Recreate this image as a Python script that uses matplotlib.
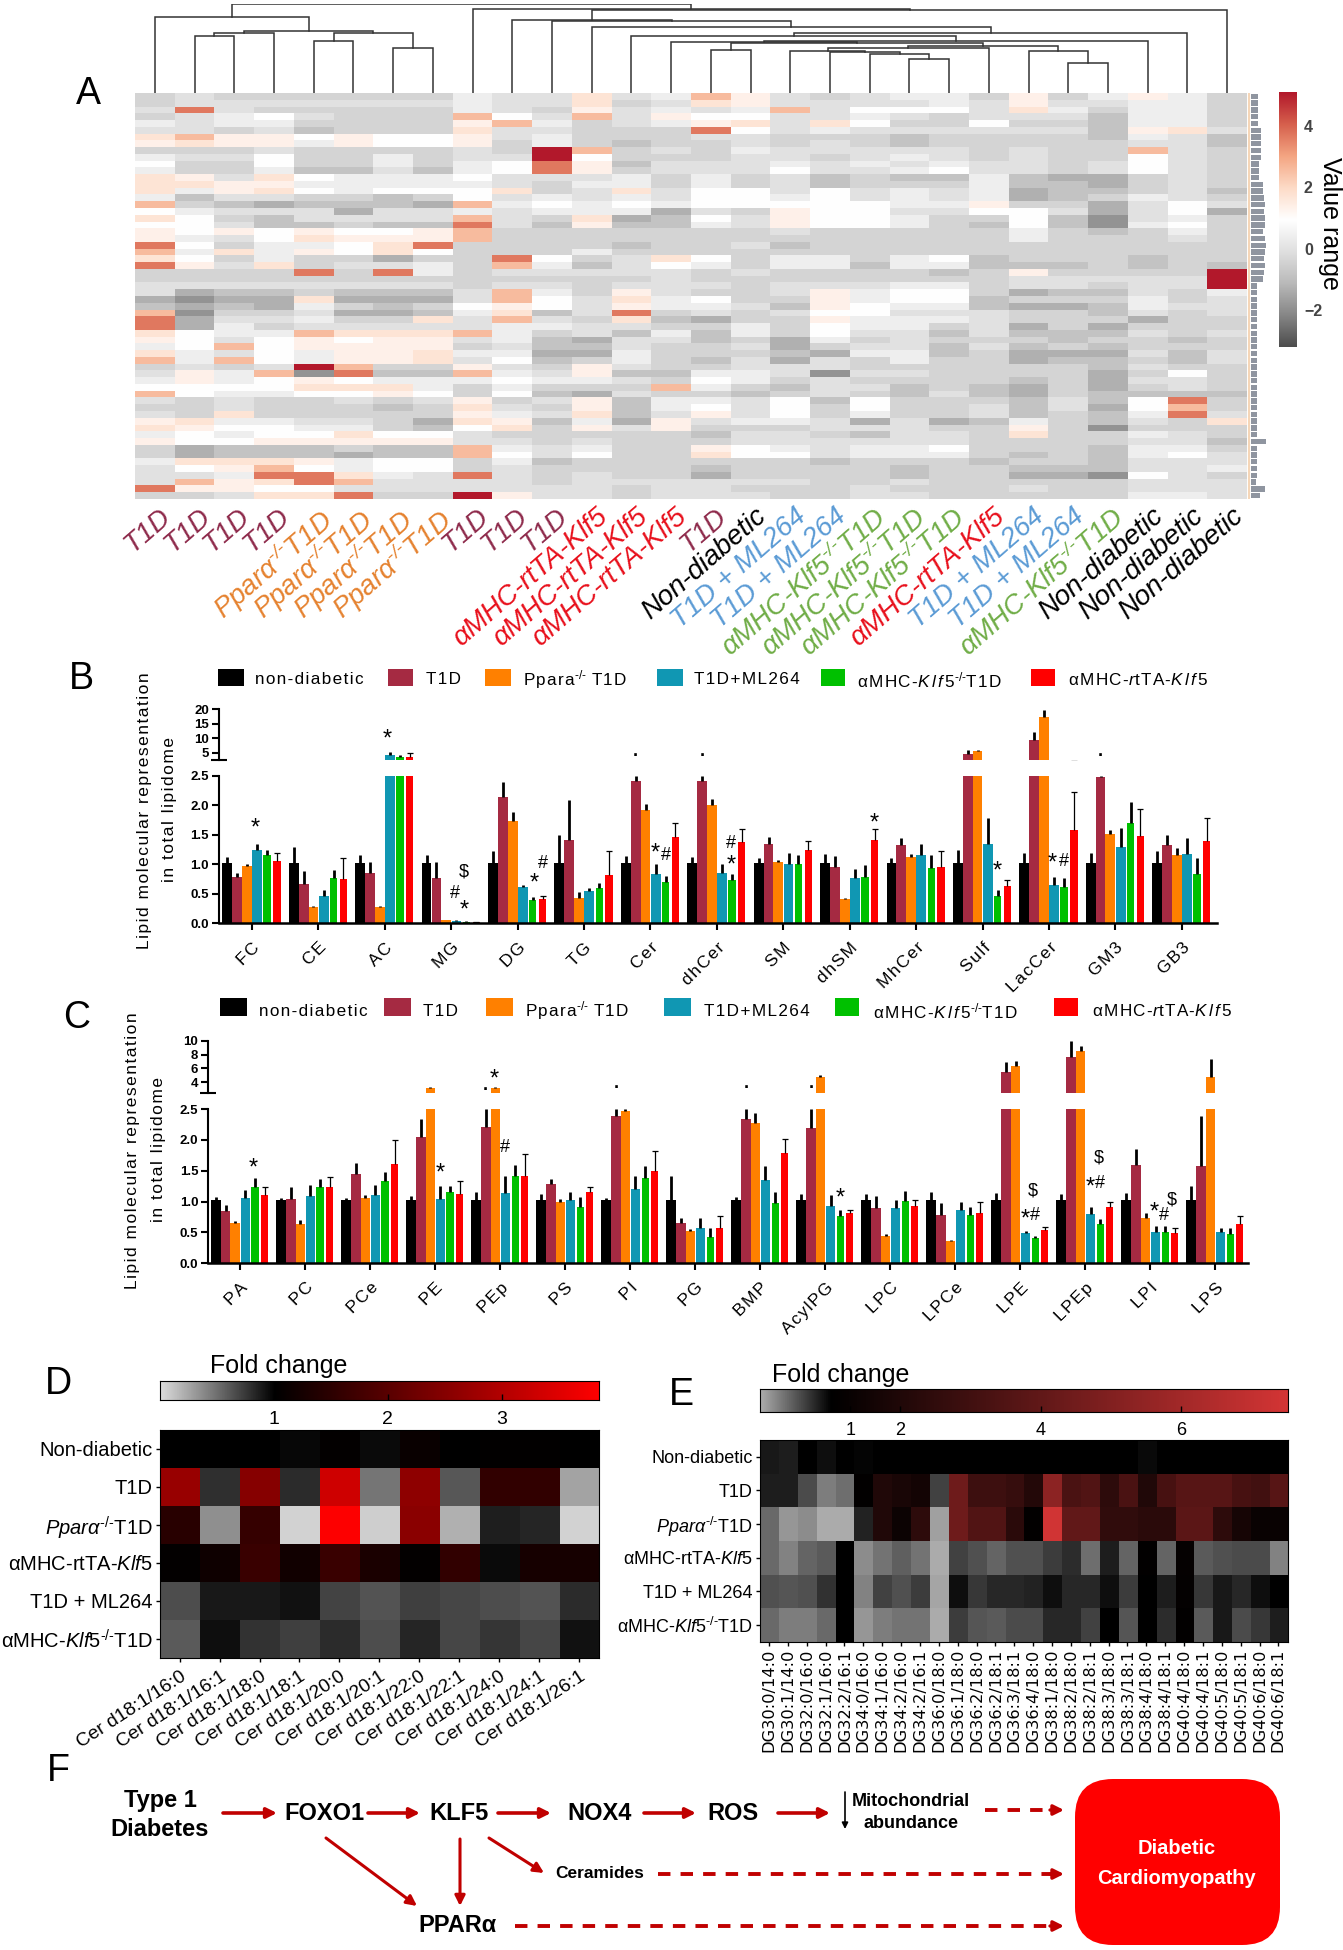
# Lipidomics figure: clustered heatmap, broken-axis bars, fold change maps, pathway.
import numpy as np
import matplotlib
matplotlib.use("Agg")
import matplotlib.pyplot as plt
from matplotlib.colors import LinearSegmentedColormap
from matplotlib.patches import Rectangle, FancyBboxPatch

plt.rcParams["font.family"] = ["Liberation Sans", "DejaVu Sans"]
plt.rcParams["mathtext.fontset"] = "custom"
plt.rcParams["mathtext.rm"] = "Liberation Sans"
plt.rcParams["mathtext.it"] = "Liberation Sans:italic"
plt.rcParams["mathtext.bf"] = "Liberation Sans:bold"
plt.rcParams["mathtext.default"] = "regular"

W, H = 1343, 1950
KO = "\u2010/\u2010"

# ---- Panel A data
a_labels = ["T1D"] * 4 + ["Pparα$^{" + KO + "}$T1D"] * 4 + ["T1D"] * 3 + ["αMHC-rtTA-Klf5"] * 3 + ["T1D", "Non-diabetic"] \
    + ["T1D + ML264"] * 2 + ["αMHC-Klf5$^{" + KO + "}$T1D"] * 3 + ["αMHC-rtTA-Klf5"] + ["T1D + ML264"] * 2 \
    + ["αMHC-Klf5$^{" + KO + "}$T1D"] + ["Non-diabetic"] * 3
a_colors = {"T1D": "#8e2a4b", "Ppar": "#e5822f", "rtTA": "#e8101c", "Non": "#000000", "ML": "#5b9bd5", "Klf": "#70ad47"}

# one character per cell, see heat_levels
heat_levels = {"0": -1.9, "1": -1.3, "2": -0.85, "3": -0.4, "4": -0.05, "5": 0.4, "6": 0.95, "7": 1.35,
               "8": 1.7, "9": 2.6, "a": 3.7, "b": 5.1}
heat_rows = [
    "3 4 3 3 3 3 3 3 5 4 4 8 4 5 9 7 4 3 4 5 5 3 7 3 5 7 5 3",
    "3 4 4 4 4 4 4 4 5 4 4 8 3 4 8 7 4 4 4 4 5 4 7 4 4 5 5 3",
    "4 a 4 3 3 3 3 3 5 4 3 7 4 5 4 5 9 4 6 6 6 4 8 5 3 5 5 3",
    "3 4 5 6 4 3 3 3 9 6 4 9 4 7 6 6 4 4 5 4 3 4 4 4 2 5 5 3",
    "5 4 5 5 3 3 3 3 7 9 5 3 4 5 7 8 4 8 6 3 3 6 3 3 2 5 5 3",
    "4 4 3 4 2 3 3 3 8 4 4 3 3 3 a 6 4 5 4 4 4 4 4 4 2 7 8 4",
    "8 9 7 7 6 7 6 6 7 4 5 3 3 3 4 4 3 3 3 2 3 3 3 3 2 5 4 2",
    "7 8 7 7 5 7 6 6 7 3 5 3 2 3 3 4 3 4 3 2 3 3 3 3 3 4 4 2",
    "3 3 3 4 3 3 3 3 4 3 b 9 3 4 3 5 4 4 4 4 4 3 4 3 3 9 4 3",
    "5 4 4 6 3 3 5 3 4 4 b 6 3 3 3 4 4 3 4 5 4 3 4 3 3 6 4 3",
    "6 3 3 6 3 3 5 3 5 6 a 7 2 4 4 4 5 4 5 4 5 4 4 3 4 6 4 3",
    "5 3 3 5 2 2 4 2 5 6 a 7 3 4 4 4 6 4 4 5 6 4 4 3 4 6 4 3",
    "8 7 4 8 6 5 5 5 6 4 4 4 5 3 5 3 4 2 3 2 2 5 2 1 1 3 4 3",
    "8 8 7 7 5 5 5 5 5 4 3 5 5 3 5 3 4 2 3 3 3 5 2 2 1 3 4 3",
    "8 5 7 8 6 5 6 6 6 8 3 4 8 4 6 6 4 6 4 5 4 5 1 2 2 3 4 2",
    "5 2 4 4 3 3 2 3 6 4 5 4 5 4 6 6 5 6 4 5 4 5 1 2 3 5 4 3",
    "9 3 2 1 2 2 2 1 9 5 6 5 6 5 6 6 6 6 6 5 5 7 3 3 1 4 6 4",
    "6 5 4 4 4 1 4 4 5 4 5 5 5 1 4 3 7 6 6 4 4 6 6 4 1 4 6 1",
    "8 6 3 2 4 4 4 4 9 4 3 8 1 2 6 4 7 6 6 5 3 3 6 2 0 4 5 3",
    "6 6 4 2 2 3 2 2 a 4 2 7 2 2 5 4 7 6 6 5 3 2 6 2 0 5 6 3",
    "7 6 7 6 7 6 6 7 9 3 3 3 3 3 3 3 4 3 3 3 3 3 5 3 2 3 5 3",
    "7 5 4 6 8 7 7 7 9 3 3 3 3 3 3 3 3 3 3 3 3 3 5 3 3 3 4 3",
    "a 6 3 5 5 6 8 a 3 3 3 3 2 3 3 4 2 3 3 3 3 3 3 3 3 3 3 3",
    "9 5 8 5 7 6 8 6 3 3 3 5 3 3 3 3 3 3 3 3 3 3 3 3 3 3 3 3",
    "8 6 3 5 3 3 1 3 3 a 6 3 4 8 6 3 5 5 3 5 6 2 3 3 3 2 3 3",
    "a 7 4 8 3 4 4 5 3 9 5 2 4 6 5 3 5 5 2 5 5 2 2 2 3 2 3 2",
    "3 3 3 3 a 3 a 5 3 4 4 4 4 4 3 4 3 3 3 3 2 3 7 3 3 3 3 b",
    "3 3 3 3 3 3 3 3 3 3 3 3 3 4 3 3 3 3 3 3 3 3 4 4 4 4 4 b",
    "4 4 4 4 4 4 4 4 3 4 4 3 4 4 4 3 4 4 4 5 5 3 4 4 3 4 4 b",
    "4 1 2 2 3 2 2 2 4 9 5 3 7 4 3 3 4 7 5 6 6 3 1 2 2 4 3 5",
    "1 0 1 1 8 1 1 1 4 9 6 4 8 5 6 3 3 7 5 6 6 2 3 3 3 5 3 4",
    "2 1 2 1 5 3 2 3 6 7 6 4 7 5 5 4 2 7 6 5 5 2 1 1 2 5 4 4",
    "9 0 3 3 4 1 1 2 5 8 2 4 a 3 4 3 4 6 6 4 4 4 3 3 2 4 3 4",
    "a 1 4 4 5 3 3 8 4 9 4 3 8 2 1 3 3 7 5 5 5 4 3 3 3 1 3 3",
    "a 1 5 3 4 4 4 4 4 5 5 4 4 3 3 5 3 6 5 5 3 4 1 3 1 3 3 3",
    "8 6 5 5 9 8 8 8 9 5 3 4 2 5 2 5 3 6 4 4 2 4 2 2 2 4 3 4",
    "7 6 4 6 7 6 7 7 4 5 2 1 4 4 2 3 1 5 3 4 3 3 3 2 3 3 2 3",
    "5 6 9 6 7 7 7 7 3 4 2 2 4 3 3 4 1 3 4 4 2 4 2 3 2 3 3 3",
    "8 5 4 6 5 7 7 8 5 5 1 1 5 3 3 3 2 1 5 5 2 3 1 1 1 4 2 4",
    "9 5 9 6 5 7 7 8 4 6 2 3 5 3 2 4 1 4 3 5 3 3 1 2 2 3 2 4",
    "3 4 3 4 b 9 3 3 7 4 3 7 4 3 3 4 4 4 3 3 3 3 3 3 2 4 3 3",
    "4 7 5 9 0 a 2 2 9 5 4 7 2 2 5 5 4 0 4 4 3 3 3 3 1 3 6 3",
    "5 7 5 6 7 6 5 5 5 6 5 5 4 3 6 5 3 4 3 3 3 3 2 3 1 4 4 3",
    "6 6 6 6 8 8 8 5 3 5 3 3 3 9 5 3 2 4 4 2 3 2 1 3 1 3 4 3",
    "9 6 5 5 6 6 7 6 3 6 2 1 4 3 3 2 3 4 3 2 4 2 1 3 2 2 2 2",
    "4 3 4 3 3 4 3 4 7 3 4 7 2 5 5 4 6 2 6 3 3 3 2 4 2 6 a 3",
    "3 3 4 3 3 3 2 3 8 4 3 7 2 5 6 4 6 3 6 3 3 4 2 4 1 6 9 3",
    "4 3 8 3 3 3 3 3 7 5 4 8 2 4 7 4 6 3 5 3 3 4 2 3 2 5 a 4",
    "7 8 5 5 4 4 3 1 8 7 2 5 1 7 4 5 5 4 1 4 1 2 5 3 2 4 3 8",
    "8 7 6 6 5 5 3 2 6 8 3 7 4 7 3 3 3 4 4 4 3 3 7 3 0 3 3 3",
    "5 6 5 6 6 8 6 6 4 3 3 3 3 3 2 4 4 3 2 4 4 3 8 3 3 5 4 3",
    "7 6 6 7 7 7 7 7 4 4 3 4 3 3 3 4 4 4 4 4 4 3 3 3 3 4 4 2",
    "3 1 2 2 2 3 2 2 9 5 4 5 3 3 7 6 5 4 5 5 6 3 3 3 2 5 5 3",
    "3 1 2 2 2 1 2 2 9 6 4 6 3 3 8 6 6 4 5 5 5 3 2 3 2 5 6 4",
    "5 8 8 8 7 5 6 6 3 5 2 3 3 3 3 3 3 2 3 3 3 2 3 3 2 4 4 4",
    "4 6 7 9 6 5 6 6 3 4 3 3 3 3 2 3 3 3 3 2 3 3 2 2 2 4 4 5",
    "4 4 5 a a 8 5 4 a 4 3 4 3 3 1 3 3 3 3 2 3 3 1 1 0 6 4 3",
    "4 9 7 8 a 9 4 4 4 4 3 4 4 4 4 4 4 3 3 4 3 3 3 3 3 4 4 4",
    "a 7 7 6 6 4 4 4 4 4 4 4 3 4 4 3 3 3 4 3 3 3 4 3 3 4 4 4",
    "3 3 4 8 8 a 3 3 b 7 4 4 3 4 4 4 3 3 4 4 3 3 3 3 3 5 5 4",
]
# row name widths beside the heatmap (tiny illegible labels)
a_side = [7, 7, 7, 7, 7, 10, 10, 10, 10, 10, 8, 8, 8, 12, 12, 13, 14, 13, 14, 14, 12, 14, 15, 14, 13, 14, 13, 12,
          6, 6, 6, 6, 6, 6, 6, 6, 6, 6, 6, 6, 6, 6, 6, 6, 6, 6, 6, 6, 6, 6, 6, 15, 6, 6, 6, 6, 6, 5, 14, 9]
# dendrogram merges: (child, child, height); ids above 27 are earlier merges
a_merges = [(1, 2, 140), (28, 3, 146), (4, 5, 128), (6, 7, 110), (30, 31, 146), (29, 32, 153), (0, 33, 186),
            (14, 15, 106), (19, 20, 83), (18, 36, 96), (17, 37, 100), (16, 38, 103), (39, 21, 110), (23, 24, 73),
            (22, 41, 103), (40, 42, 116), (35, 43, 123), (13, 44, 125), (45, 25, 128), (12, 46, 140), (47, 26, 146),
            (11, 48, 162), (10, 49, 176), (9, 50, 178), (51, 27, 203), (8, 52, 206), (34, 53, 218)]

# ---- Panels B and C data: group rows, columns follow series order
series_colors = ["#000000", "#a52a42", "#ff8000", "#1097b3", "#00c000", "#ff0000"]
b_groups = ["FC", "CE", "AC", "MG", "DG", "TG", "Cer", "dhCer", "SM", "dhSM", "MhCer", "Sulf", "LacCer", "GM3", "GB3"]
b_means = [[1.02, .79, .97, 1.25, 1.15, 1.05], [1.02, .67, .27, .47, .76, .75], [1.02, .85, .27, 4.2, 3.6, 3.4],
           [1.02, .76, .05, .04, .03, .02], [1.02, 2.14, 1.74, .61, .40, .41], [1.02, 1.41, .43, .54, .60, .82],
           [1.02, 2.41, 1.92, .83, .70, 1.46], [1.02, 2.41, 2.00, .85, .73, 1.38], [1.02, 1.35, 1.04, 1.01, 1.01, 1.25],
           [1.02, .95, .41, .76, .79, 1.41], [1.02, 1.32, 1.12, 1.15, .94, .96], [1.02, 4.7, 5.6, 1.34, .47, .63],
           [1.02, 9.4, 17.3, .65, .61, 1.58], [1.02, 2.48, 1.51, 1.29, 1.70, 1.48], [1.02, 1.32, 1.16, 1.18, .83, 1.39]]
b_tops = [[1.12, .86, 1.0, 1.34, 1.25, 1.19], [1.30, .88, .30, .56, .90, 1.11], [1.16, 1.04, .30, 5.3, 4.1, 4.8],
          [1.16, 1.04, .06, .05, .04, .03], [1.22, 2.40, 1.89, .65, .45, .46], [1.50, 2.08, .53, .60, .69, 1.23],
          [1.14, 2.50, 2.02, 1.00, .80, 1.70], [1.13, 2.50, 2.10, 1.00, .83, 1.60], [1.11, 1.47, 1.07, 1.19, 1.15, 1.39],
          [1.17, 1.14, .43, .92, .98, 1.60], [1.10, 1.45, 1.17, 1.35, 1.15, 1.22], [1.25, 6.0, 5.9, 1.78, .56, .74],
          [1.19, 12.3, 19.6, .79, .76, 2.22], [1.19, 2.49, 1.58, 1.62, 2.05, 1.93], [1.23, 1.49, 1.28, 1.44, 1.10, 1.78]]
c_groups = ["PA", "PC", "PCe", "PE", "PEp", "PS", "PI", "PG", "BMP", "AcylPG", "LPC", "LPCe", "LPE", "LPEp", "LPI", "LPS"]
c_means = [[1.02, .84, .65, 1.06, 1.23, 1.11], [1.02, 1.04, .64, 1.09, 1.23, 1.23], [1.02, 1.44, 1.05, 1.11, 1.33, 1.61],
           [1.02, 2.04, 3.24, 1.04, 1.15, 1.13], [1.02, 2.21, 3.2, 1.14, 1.41, 1.42], [1.02, 1.28, 1.0, 1.03, .91, 1.16],
           [1.02, 2.38, 2.47, 1.20, 1.38, 1.49], [1.02, .65, .52, .57, .42, .58], [1.02, 2.33, 2.27, 1.35, .97, 1.78],
           [1.02, 2.20, 4.7, .93, .77, .81], [1.02, .90, .44, .89, 1.01, .93], [1.02, .78, .36, .86, .78, .82],
           [1.02, 5.5, 6.4, .49, .41, .54], [1.02, 7.7, 8.5, .80, .63, .91], [1.02, 1.60, .74, .50, .50, .49],
           [1.02, 1.58, 4.8, .50, .48, .63]]
c_tops = [[1.08, .94, .68, 1.19, 1.38, 1.23], [1.06, 1.24, .70, 1.27, 1.37, 1.40], [1.06, 1.63, 1.11, 1.27, 1.48, 2.00],
          [1.09, 2.34, 3.3, 1.25, 1.25, 1.34], [1.15, 2.50, 3.3, 1.41, 1.59, 1.77], [1.12, 1.36, 1.04, 1.16, 1.07, 1.23],
          [1.06, 2.50, 2.50, 1.42, 1.58, 1.82], [1.41, .73, .55, .74, .58, .77], [1.08, 2.50, 2.44, 1.57, 1.15, 2.01],
          [1.13, 2.50, 5.05, 1.10, .87, .87], [1.13, 1.09, .47, 1.02, 1.17, 1.03], [1.15, .98, .38, 1.00, .91, 1.00],
          [1.14, 7.0, 7.1, .52, .45, .59], [1.13, 10.0, 9.2, .92, .72, 1.00], [1.14, 1.86, .81, .60, .60, .58],
          [1.26, 2.38, 7.3, .58, .58, .76]]

# ---- Panel D data
d_rows = ["Non-diabetic", "T1D", r"$\mathit{Ppar\alpha}^{" + KO + r"}$T1D", r"αMHC-rtTA-$\mathit{Klf5}$", "T1D + ML264",
          r"αMHC-$\mathit{Klf5}^{" + KO + r"}$T1D"]
d_cols = ["16:0", "16:1", "18:0", "18:1", "20:0", "20:1", "22:0", "22:1", "24:0", "24:1", "26:1"]
d_values = [[1, 1, 1, .97, 1.05, .96, 1.1, 1, 1.03, 1.03, 1],
            [2.7, .79, 2.5, .81, 3.3, .48, 2.6, .61, 1.55, 1.55, .26],
            [1.45, .36, 1.6, .05, 3.83, .07, 2.55, .2, .86, .84, .06],
            [1.05, 1.17, 1.65, 1.2, 1.65, 1.3, 1.04, 1.55, .95, 1.25, 1.25],
            [.66, .9, .9, .92, .7, .63, .72, .68, .66, .63, .8],
            [.6, .94, .78, .72, .8, .66, .84, .68, .76, .68, .92]]

# ---- Panel E data
e_cols = ["DG30:0/14:0", "DG30:1/14:0", "DG32:0/16:0", "DG32:1/16:0", "DG32:2/16:1", "DG34:0/16:0", "DG34:1/16:0",
          "DG34:2/16:0", "DG34:2/16:1", "DG36:0/18:0", "DG36:1/18:0", "DG36:2/18:0", "DG36:2/18:1", "DG36:3/18:1",
          "DG36:4/18:0", "DG38:1/18:0", "DG38:2/18:0", "DG38:2/18:1", "DG38:3/18:0", "DG38:3/18:1", "DG38:4/18:0",
          "DG38:4/18:1", "DG40:4/18:0", "DG40:4/18:1", "DG40:5/18:0", "DG40:5/18:1", "DG40:6/18:0", "DG40:6/18:1"]
e_values = [[.86, .84, 1, .93, 1, .97, 1, 1, 1, 1, 1, 1, 1, 1, 1, 1, 1, 1, 1, 1, .95, 1, 1, 1, 1, 1, 1, 1],
            [.84, .84, .57, .27, .37, 1.1, 2.0, 1.8, 1.6, .62, 4.4, 2.9, 2.9, 2.7, 2.1, 5.3, 3.3, 3.5, 2.4, 3.3, 2.0, 3.2,
             3.7, 3.7, 3.7, 3.2, 3.0, 3.7],
            [.39, .12, .18, .02, .02, .82, 2.0, 1.4, 2.4, .06, 4.4, 3.5, 3.5, 2.3, 1.1, 7.4, 4.0, 4.0, 2.5, 2.5, 2.3, 2.3,
             3.8, 3.8, 2.4, 1.7, 1.3, 1.3],
            [.39, .24, .44, .47, 1.0, .18, .33, .45, .33, .02, .64, .53, .44, .53, .53, .66, .75, .37, .83, .44, 1.1, .42,
             1.2, .47, .53, .57, .57, .24],
            [.53, .5, .55, .72, 1.0, .25, .63, .53, .65, .04, .92, .68, .79, .79, .82, .93, .77, .77, .92, .66, 1.0, .83,
             1.15, .69, .88, .79, .92, 1.0],
            [.39, .29, .29, .39, 1.0, .14, .29, .33, .33, .02, .65, .5, .47, .57, .57, .79, .77, .64, 1.0, .5, 1.0, .75,
             1.1, .47, .88, .57, .68, .83]]


def axes_px(x0, y0, x1, y1):
    return fig.add_axes([x0 / W, 1 - y1 / H, (x1 - x0) / W, (y1 - y0) / H])


def spaced(s):
    return "\u200a".join(s)


def bar_panel(groups, means, tops, ax_box, top_lim, top_ticks, x_lim):
    means = np.array(means)
    tops = np.array(tops)
    x0, x1, y_top, y_gap, y_low, y_zero = ax_box
    low = axes_px(x0, y_low, x1, y_zero)
    up = axes_px(x0, y_top, x1, y_gap)
    offsets = [-.372, -.223, -.075, .079, .228, .375]
    widths = [.148, .148, .148, .148, .11, .11]
    pos = np.arange(len(groups))
    for ax in (low, up):
        for i in range(6):
            ax.bar(pos + offsets[i], means[:, i], widths[i], color=series_colors[i], linewidth=0)
            if i < 5:
                ax.vlines(pos + offsets[i], means[:, i], tops[:, i], color="k", lw=2.0)
            else:
                ax.vlines(pos + offsets[i], means[:, i], tops[:, i], color="k", lw=0.9)
                ax.plot(pos + offsets[i], tops[:, i], "_", color="k", ms=4, mew=0.9)
        ax.set_xlim(*x_lim)
        for s in ("top", "right"):
            ax.spines[s].set_visible(False)
        ax.spines["left"].set_linewidth(1.5)
        ax.patch.set_alpha(0)
    low.set_ylim(0, 2.5)
    low.set_yticks([0, .5, 1, 1.5, 2, 2.5])
    low.set_yticklabels(["0.0", "0.5", "1.0", "1.5", "2.0", "2.5"], fontweight="bold", fontsize=9.5)
    low.set_yticks([2.5], minor=True)
    low.tick_params(axis="y", which="minor", direction="in", length=6, width=1.5)
    low.tick_params(axis="y", which="major", length=5, width=1.5, pad=2)
    low.spines["bottom"].set_linewidth(1.8)
    low.set_xticks(pos)
    low.set_xticklabels([spaced(g) for g in groups], rotation=45, ha="right", va="top", rotation_mode="anchor",
                        fontsize=12.5)
    low.tick_params(axis="x", length=5, width=1.5, pad=7)
    up.set_ylim(2.5, top_lim)
    up.set_yticks(top_ticks)
    up.set_yticklabels([str(t) for t in top_ticks], fontweight="bold", fontsize=9.5)
    up.set_yticks([2.5], minor=True)
    up.tick_params(axis="y", which="minor", direction="inout", length=11, width=1.5)
    up.tick_params(axis="y", which="major", length=5, width=1.5, pad=2)
    up.spines["bottom"].set_visible(False)
    up.set_xticks([])
    return low, up


def legend_row(x_swatches, w_swatches, y0, y1, x_texts, y_text):
    names = [spaced("non-diabetic"), spaced("T1D"), spaced("Ppara") + "$^{" + KO + "}$ " + spaced("T1D"),
             spaced("T1D+ML264"), "α\u200a" + spaced("MHC-") + r"$\mathit{K\,l\,f\,5}^{" + KO + "}$" + spaced("T1D"),
             "α\u200a" + spaced("MHC-") + r"$\mathit{r}$" + spaced("tTA-") + r"$\mathit{K\,l\,f\,5}$"]
    for i in range(6):
        over.add_patch(Rectangle((x_swatches[i], y0), w_swatches[i], y1 - y0, color=series_colors[i], lw=0))
        over.text(x_texts[i], y_text, names[i], fontsize=12.3, va="center", ha="left")


def symbols(items):
    for s, x, y in items:
        over.text(x, y, s, ha="center", va="center", fontsize=17 if s == "*" else 13,
                  fontweight="bold" if s == "." else "normal")


fig = plt.figure(figsize=(W / 100, H / 100), dpi=100)
over = fig.add_axes([0, 0, 1, 1], zorder=10)
over.set_xlim(0, W)
over.set_ylim(H, 0)
over.axis("off")
over.patch.set_alpha(0)

# ---- A: dendrogram
dend = axes_px(135, 4, 1247, 93)
nodes = {i: (float(i), 0.0) for i in range(28)}
for n, (a, b, h) in enumerate(a_merges):
    xa, ha_ = nodes[a]
    xb, hb = nodes[b]
    dend.plot([xa, xa, xb, xb], [ha_, h, h, hb], color="#333333", lw=1.1, solid_joinstyle="miter")
    nodes[28 + n] = ((xa + xb) / 2, h)
dend.set_xlim(-.5, 27.5)
dend.set_ylim(0, 218)
dend.axis("off")

# ---- A: heatmap
heat_colors = ["#4d4d4d", "#878787", "#bababa", "#e0e0e0", "#ffffff", "#fddbc7", "#f4a582", "#d6604d", "#b2182b"]
heat_cmap = LinearSegmentedColormap.from_list("heat", heat_colors)
heat = np.array([[heat_levels[c] for c in r.split()] for r in heat_rows])
axa = axes_px(135, 93, 1247, 499)
axa.imshow(heat, cmap=heat_cmap, vmin=-3.2, vmax=5.1, aspect="auto", interpolation="nearest")
for s in axa.spines.values():
    s.set_visible(False)
axa.set_yticks([])
axa.set_xticks(np.arange(28) + 0.1)
axa.set_xticklabels(a_labels, rotation=41, ha="right", va="top", rotation_mode="anchor", fontsize=20, style="italic")
axa.tick_params(axis="x", length=0, pad=3)
for lab, txt in zip(axa.get_xticklabels(), a_labels):
    key = "rtTA" if "rtTA" in txt else "Klf" if "Klf" in txt else "Ppar" if "Ppar" in txt else "ML" if "ML" in txt \
        else "Non" if "Non" in txt else "T1D"
    lab.set_color(a_colors[key])

side = axes_px(1247, 93, 1272, 499)
side.barh(np.arange(60), a_side, left=4, height=0.8, color="#8f95a0", linewidth=0)
side.axvline(1.5, color="#f5d6b8", lw=1.5)
side.set_xlim(0, 25)
side.set_ylim(59.5, -.5)
side.axis("off")

cba = axes_px(1279, 92, 1297, 347)
cba.imshow(np.linspace(5.1, -3.2, 256)[:, None], cmap=heat_cmap, vmin=-3.2, vmax=5.1, aspect="auto",
           extent=[0, 1, -3.2, 5.1])
cba.set_xticks([])
cba.yaxis.tick_right()
cba.set_yticks([4, 2, 0, -2])
cba.set_yticklabels(["4", "2", "0", "−2"], fontsize=11.5, fontweight="bold", color="#444444")
cba.tick_params(axis="y", length=0, pad=5)
for s in cba.spines.values():
    s.set_visible(False)
over.text(1330, 223, "Value range", rotation=-90, fontsize=18, ha="center", va="center")

# ---- B and C
bar_panel(b_groups, b_means, b_tops, (218.6, 1217, 709.3, 759.9, 775.7, 923.3), 20, [5, 10, 15, 20], (-.503, 14.53))
bar_panel(c_groups, c_means, c_tops, (208, 1248, 1040.7, 1092.7, 1109, 1263.3), 10, [4, 6, 8, 10], (-.495, 15.5))
legend_row([218, 388, 485, 657, 821, 1031], [26, 25, 26, 26, 24, 24], 669, 686, [255, 425.5, 522.6, 694, 857, 1067.5], 680)
legend_row([220, 384, 485.6, 664, 835, 1054], [27, 27, 27, 27, 24, 24], 998, 1016, [259, 422.6, 524.7, 704, 873, 1092], 1011)
over.text(145, 811, spaced("Lipid molecular representation"), rotation=90, fontsize=12.5, ha="center", va="center")
over.text(169.6, 810, spaced("in total lipidome"), rotation=90, fontsize=12.5, ha="center", va="center")
over.text(133, 1151, spaced("Lipid molecular representation"), rotation=90, fontsize=12.5, ha="center", va="center")
over.text(158, 1150, spaced("in total lipidome"), rotation=90, fontsize=12.5, ha="center", va="center")
symbols([("*", 255, 829), ("*", 387, 740), ("$", 464, 872), ("#", 455, 893), ("*", 464, 911), ("*", 534, 884),
         ("#", 543, 863), (".", 635, 752), ("*", 655, 854), ("#", 665.5, 856), (".", 702, 752), ("#", 731, 843),
         ("*", 731, 866), ("*", 874, 824), ("*", 997, 872), ("*", 1052, 864), ("#", 1064, 861), (".", 1100, 752),
         ("*", 253, 1169), ("*", 440, 1174), (".", 485.5, 1085), ("*", 494, 1080), ("#", 505, 1148), (".", 616, 1084),
         (".", 746, 1084), (".", 811, 1084), ("*", 840, 1199), ("$", 1033, 1191), ("*", 1025, 1220), ("#", 1035, 1216),
         ("$", 1099, 1158), ("*", 1090, 1188), ("#", 1100, 1183), ("$", 1172, 1200), ("*", 1154, 1213), ("#", 1164, 1216)])

# ---- D
d_cmap = LinearSegmentedColormap.from_list("d", [(0, "#dcdcdc"), (1 / 3.85, "#000000"), (1, "#ff0000")])
axd = axes_px(159.7, 1430, 599, 1658)
axd.imshow(d_values, cmap=d_cmap, vmin=0, vmax=3.85, aspect="auto", interpolation="nearest")
axd.set_yticks(range(6))
axd.set_yticklabels(d_rows, fontsize=14.5)
axd.set_xticks(range(11))
axd.set_xticklabels(["Cer d18:1/" + c for c in d_cols], rotation=33, ha="right", va="top", rotation_mode="anchor",
                    fontsize=13.8)
axd.tick_params(length=3, width=1, pad=2)
axd.tick_params(axis="x", pad=4)
cbd = axes_px(159.7, 1381, 599, 1400)
cbd.imshow(np.linspace(0, 3.85, 256)[None, :], cmap=d_cmap, vmin=0, vmax=3.85, aspect="auto", extent=[0, 3.85, 0, 1])
cbd.set_yticks([])
cbd.set_xticks([1, 2, 3])
cbd.tick_params(axis="x", direction="in", length=4, width=1, pad=8, labelsize=14)
over.text(279, 1366, "Fold change", fontsize=18, ha="center", va="center")

# ---- E
e_cmap = LinearSegmentedColormap.from_list("e", [(0, "#ababab"), (1 / 7.52, "#000000"), (1, "#d43535")])
axe = axes_px(759.6, 1440, 1287.8, 1641.7)
axe.imshow(e_values, cmap=e_cmap, vmin=0, vmax=7.52, aspect="auto", interpolation="nearest")
axe.set_yticks(range(6))
axe.set_yticklabels(d_rows, fontsize=13)
axe.set_xticks(range(28))
axe.set_xticklabels(e_cols, rotation=90, family="DejaVu Sans", fontsize=11.7)
axe.tick_params(length=3, width=1, pad=2)
cbe = axes_px(759.6, 1389, 1287.8, 1412)
cbe.imshow(np.linspace(0, 7.52, 256)[None, :], cmap=e_cmap, vmin=0, vmax=7.52, aspect="auto", extent=[0, 7.52, 0, 1])
cbe.set_yticks([])
cbe.set_xticks([1.29, 2, 4, 6])
cbe.set_xticklabels(["1", "2", "4", "6"])
cbe.tick_params(axis="x", direction="in", length=4, width=1, pad=7, labelsize=13)
over.text(841, 1375, "Fold change", fontsize=18, ha="center", va="center")

# ---- F: pathway
arrow_red = "#c00000"
for x0, y0, x1, y1, lw in [(223, 1813, 277, 1813, 2.6), (368, 1813, 420, 1813, 2.6), (498, 1813, 551, 1813, 2.6),
                           (644, 1813, 696, 1813, 2.6), (778, 1813, 830, 1813, 2.6), (326, 1838, 417, 1906, 2.2),
                           (460, 1839, 460, 1906, 2.2), (489, 1838, 544, 1873, 2.2)]:
    over.annotate("", xy=(x1, y1), xytext=(x0, y0), arrowprops=dict(arrowstyle="-|>", color=arrow_red, lw=lw,
                                                                    mutation_scale=15, shrinkA=0, shrinkB=0))
for x0, x1, y in [(985, 1056, 1810), (658, 1056, 1874), (515, 1056, 1926)]:
    over.plot([x0, x1], [y, y], color=arrow_red, lw=2.8, dashes=(3.2, 2.6))
    over.annotate("", xy=(x1 + 8, y), xytext=(x1 - 6, y), arrowprops=dict(arrowstyle="-|>", color=arrow_red, lw=2.4,
                                                                          mutation_scale=15, shrinkA=0, shrinkB=0))
over.annotate("", xy=(845, 1829), xytext=(845, 1792), arrowprops=dict(arrowstyle="-|>", color="k", lw=1.2,
                                                                      mutation_scale=9, shrinkA=0, shrinkB=0))
over.add_patch(FancyBboxPatch((1075, 1779), 205, 166, boxstyle="round,pad=0,rounding_size=38", color="#ff0000", lw=0))
for txt, x, y, size, col in [("Type 1", 160, 1800, 17, "k"), ("Diabetes", 160, 1829, 17, "k"), ("FOXO1", 324, 1813, 17, "k"),
                             ("KLF5", 459, 1813, 17, "k"), ("NOX4", 600, 1813, 17, "k"), ("ROS", 733, 1813, 17, "k"),
                             ("Mitochondrial", 911, 1802, 13, "k"), ("abundance", 911, 1824, 13, "k"),
                             ("Ceramides", 600, 1874, 12.5, "k"), ("PPARα", 457, 1926, 17, "k"),
                             ("Diabetic", 1177, 1849, 14.5, "w"), ("Cardiomyopathy", 1177, 1879, 14.5, "w")]:
    over.text(x, y, txt, fontsize=size, fontweight="bold", color=col, ha="center", va="center")

# ---- panel letters
for letter, x, y in [("A", 88, 94), ("B", 81, 679), ("C", 77, 1018), ("D", 58, 1384), ("E", 681, 1395), ("F", 58, 1771)]:
    over.text(x, y, letter, fontsize=27, ha="center", va="center")

fig.savefig("out.png", dpi=100)
